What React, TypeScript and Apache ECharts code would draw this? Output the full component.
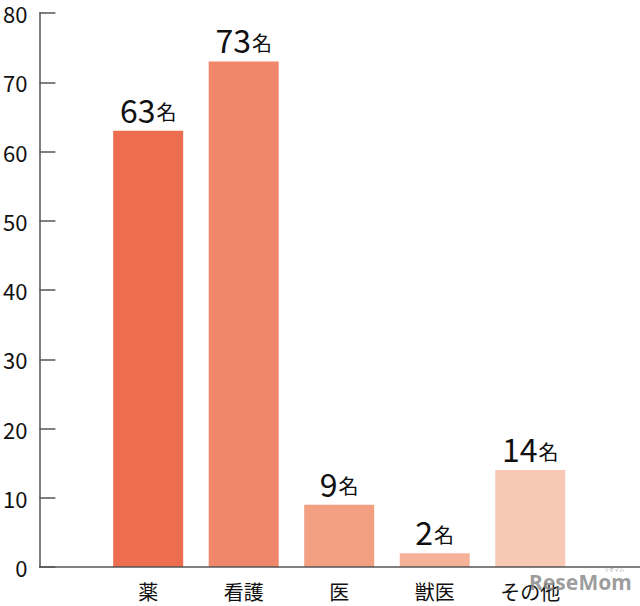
import React, { useEffect, useRef } from "react";
import * as echarts from "echarts";

const categories = ["薬", "看護", "医", "獣医", "その他"];
const values = [63, 73, 9, 2, 14];
const barColors = ["#EC6E4F", "#F0876A", "#F29F82", "#F5B299", "#F7C8B4"];
const yTicks = { min: 0, max: 80, interval: 10 };
const unit = "名";

const FONT = "'Noto Sans CJK JP', 'Noto Sans', sans-serif";

export default function App() {
  const ref = useRef<HTMLDivElement>(null);
  useEffect(() => {
    document.body.style.margin = "0";
    const chart = echarts.init(ref.current!, null, { renderer: "svg" });
    chart.setOption({
      animation: false,
      textStyle: { fontFamily: FONT },
      grid: { left: 100, right: 62, top: 13, bottom: 39 },
      xAxis: {
        type: "category",
        data: categories,
        axisLine: { show: false },
        axisTick: { show: false },
        axisLabel: { fontSize: 20, color: "#111", margin: 14, fontFamily: FONT },
      },
      yAxis: {
        type: "value",
        min: yTicks.min,
        max: yTicks.max,
        interval: yTicks.interval,
        offset: 61,
        splitLine: { show: false },
        axisLine: { show: true, lineStyle: { color: "#555", width: 1.5 } },
        axisTick: { show: true, inside: true, length: 16, lineStyle: { color: "#555", width: 1.5 } },
        axisLabel: { fontSize: 22, color: "#111", margin: 12, fontFamily: FONT },
      },
      series: [
        {
          type: "bar",
          barWidth: 70,
          data: values.map((v, i) => ({ value: v, itemStyle: { color: barColors[i] } })),
          label: {
            show: true,
            position: "top",
            distance: 6,
            formatter: (p: any) => `{n|${p.value}}{u|${unit}}`,
            rich: {
              n: { fontSize: 32, color: "#111", fontFamily: FONT },
              u: { fontSize: 20, color: "#111", fontFamily: FONT, padding: [6, 0, 0, 1] },
            },
          },
        },
      ],
      graphic: [
        {
          type: "line",
          shape: { x1: 39, y1: 567, x2: 640, y2: 567 },
          style: { stroke: "#555", lineWidth: 1.5 },
          z: 10,
        },
        {
          type: "text",
          x: 529,
          y: 571,
          style: {
            text: "ReseMom",
            font: "bold 21px 'Noto Sans', sans-serif",
            fill: "rgba(140,140,140,0.85)",
          },
          z: 20,
        },
        {
          type: "text",
          x: 604,
          y: 566,
          style: {
            text: "リセマム",
            font: "5px 'Noto Sans CJK JP', sans-serif",
            fill: "rgba(140,140,140,0.85)",
          },
          z: 20,
        },
      ],
    });
    return () => chart.dispose();
  }, []);
  return <div ref={ref} style={{ width: 640, height: 606 }} />;
}
